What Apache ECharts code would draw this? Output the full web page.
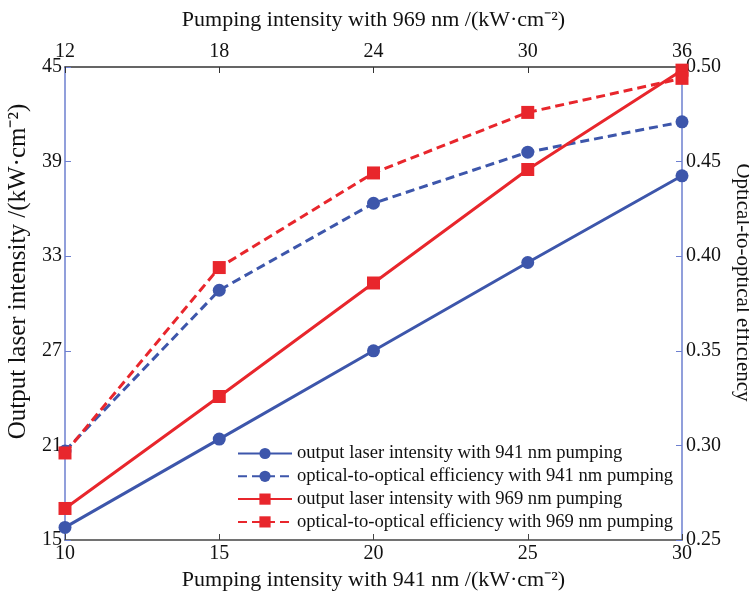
<!DOCTYPE html>
<html>
<head>
<meta charset="utf-8">
<script src="https://cdn.jsdelivr.net/npm/echarts@6/dist/echarts.min.js"></script>
<style>
html, body { margin: 0; padding: 0; background: #fff; }
#chart { width: 749px; height: 592px; }
</style>
</head>
<body>
<div id="chart"></div>
<script>
// pumping intensity, 941 nm (bottom axis)
const pump941 = [10, 15, 20, 25, 30];
// output laser intensity (left axis) and efficiency (right axis)
const out941 = [15.8, 21.4, 27.0, 32.6, 38.1];
const eff941 = [0.297, 0.382, 0.428, 0.455, 0.471];
const out969 = [17.0, 24.1, 31.3, 38.5, 44.8];
const eff969 = [0.296, 0.394, 0.444, 0.476, 0.494];

const seriesNames = [
	'output laser intensity with 941 nm pumping',
	'optical-to-optical efficiency with 941 nm pumping',
	'output laser intensity with 969 nm pumping',
	'optical-to-optical efficiency with 969 nm pumping'
];

const blue = '#3d56ab';
const red = '#e8262c';
const axisBlue = '#6d7fcf';
const tickFont = { fontFamily: 'Liberation Serif', fontSize: 20, color: '#111' };
function nameFont(size, padding) {
	return { fontFamily: 'Liberation Serif', fontSize: size, color: '#111', padding: padding || 0 };
}

function pairs(ys) {
	return pump941.map(function (x, i) { return [x, ys[i]]; });
}

function makeSeries(name, ys, yIdx, color, dashed, symbol) {
	return {
		name: name,
		type: 'line',
		xAxisIndex: 0,
		yAxisIndex: yIdx,
		data: pairs(ys),
		symbol: symbol,
		symbolSize: 13,
		lineStyle: { color: color, width: 3, type: dashed ? [9, 5] : 'solid' },
		itemStyle: { color: color },
		emphasis: { disabled: true }
	};
}

const chart = echarts.init(document.getElementById('chart'));
chart.setOption({
	animation: false,
	grid: { left: 65, right: 67, top: 67, bottom: 52, outerBoundsMode: 'none', containLabel: false },
	legend: {
		orient: 'vertical',
		left: 237,
		top: 444,
		padding: 0,
		itemWidth: 54,
		itemHeight: 14,
		itemGap: 3.8,
		textStyle: { fontFamily: 'Liberation Serif', fontSize: 18.6, color: '#111' },
		data: seriesNames
	},
	xAxis: [{
		type: 'value', position: 'bottom', min: 10, max: 30, interval: 5,
		name: 'Pumping intensity with 941 nm /(kW·cm⁻²)',
		nameLocation: 'middle', nameGap: 27, nameTextStyle: nameFont(22),
		axisLine: { lineStyle: { color: '#444', width: 1.5 } },
		axisTick: { inside: true, length: 6, lineStyle: { color: '#444' } },
		axisLabel: Object.assign({ margin: 4 }, tickFont),
		splitLine: { show: false }
	}, {
		type: 'value', position: 'top', min: 12, max: 36, interval: 6,
		name: 'Pumping intensity with 969 nm /(kW·cm⁻²)',
		nameLocation: 'middle', nameGap: 36, nameTextStyle: nameFont(22),
		axisLine: { lineStyle: { color: '#333', width: 1.5 } },
		axisTick: { inside: true, length: 6, lineStyle: { color: '#333' } },
		axisLabel: Object.assign({ margin: 5 }, tickFont),
		splitLine: { show: false }
	}],
	yAxis: [{
		type: 'value', position: 'left', min: 15, max: 45, interval: 6,
		name: 'Output laser intensity /(kW·cm⁻²)',
		nameLocation: 'middle', nameGap: 32, nameRotate: 90,
		nameTextStyle: nameFont(25, [0, 0, 0, 64]),
		axisLine: { show: true, lineStyle: { color: axisBlue, width: 1.5 } },
		axisTick: { show: true, inside: true, length: 6, lineStyle: { color: axisBlue } },
		axisLabel: Object.assign({ margin: 3 }, tickFont),
		splitLine: { show: false }
	}, {
		type: 'value', position: 'right', min: 0.25, max: 0.5, interval: 0.05,
		name: 'Optical-to-optical efficiency',
		nameLocation: 'middle', nameGap: 47, nameRotate: -90,
		nameTextStyle: nameFont(21, [0, 42, 0, 0]),
		axisLine: { show: true, lineStyle: { color: axisBlue, width: 1.5 } },
		axisTick: { show: true, inside: true, length: 6, lineStyle: { color: axisBlue } },
		axisLabel: Object.assign({
			margin: 4,
			formatter: function (v) { return v.toFixed(2); }
		}, tickFont),
		splitLine: { show: false }
	}],
	series: [
		makeSeries(seriesNames[0], out941, 0, blue, false, 'circle'),
		makeSeries(seriesNames[1], eff941, 1, blue, true, 'circle'),
		makeSeries(seriesNames[2], out969, 0, red, false, 'rect'),
		makeSeries(seriesNames[3], eff969, 1, red, true, 'rect')
	]
});

window.onresize = function () {
	chart.resize();
};
</script>
</body>
</html>
